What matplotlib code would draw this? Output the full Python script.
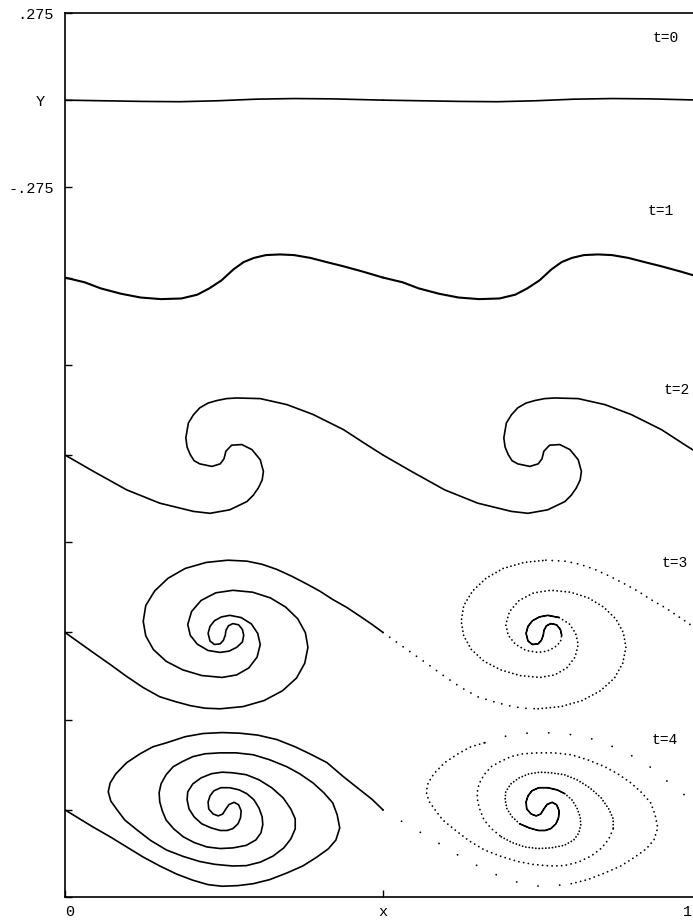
import numpy as np
import matplotlib
matplotlib.use("Agg")
import matplotlib.pyplot as plt

# one period of the sheet (x from 0 to 0.5), y is offset from the panel baseline
T0_X = [0, .06, .12, .18, .24, .30, .36, .42, .5]
T0_Y = [0, -.002, -.004, -.005, -.002, .003, .005, .004, 0]

T1_X = [0, .031, .056, .088, .119, .151, .183, .208, .227, .246, .265, .281, .297, .316, .338,
        .360, .386, .411, .437, .468, .5]
T1_Y = [0, -.015, -.034, -.051, -.063, -.068, -.066, -.054, -.034, -.009, .026, .049, .062, .071, .073,
        .071, .062, .049, .036, .019, 0]

T2_X = [0, .045, .097, .149, .202, .228, .259, .286, .296, .304, .310, .312, .307, .294, .278, .262,
        .253, .250, .244, .231, .212, .203, .197, .192, .190, .194, .202, .212, .225, .239, .254,
        .270, .307, .349, .390, .438, .474, .5]
T2_Y = [0, -.052, -.110, -.152, -.178, -.184, -.173, -.147, -.127, -.104, -.079, -.052, -.015, .017,
        .033, .031, .012, -.012, -.028, -.036, -.028, -.018, .001, .025, .054, .101, .127, .149, .164,
        .172, .178, .180, .178, .159, .128, .080, .033, 0]

T3_X = [0, .044, .071, .097, .123, .149, .173, .197, .220, .244,
        .280, .313, .342, .364, .377, .382,
        .378, .366, .347, .323, .295, .264,
        .237, .214, .199, .193,
        .197, .208, .225, .244,
        .258, .270, .279, .281,
        .279, .273, .264, .257, .253, .252, .249, .244, .235, .228, .225,
        .228, .235, .246, .259,
        .277, .293, .303, .307,
        .302, .289, .270, .247,
        .215, .185, .159, .139, .127, .123,
        .127, .141, .162, .189, .222, .256,
        .286, .310, .333, .357, .381, .401, .421, .443, .464, .483, .5]
T3_Y = [0, -.063, -.101, -.139, -.174, -.203, -.218, -.231, -.239, -.241,
        -.234, -.215, -.184, -.144, -.097, -.047,
        -.001, .043, .080, .109, .127, .133,
        .125, .101, .066, .025,
        -.009, -.037, -.057, -.063,
        -.059, -.047, -.030, -.009,
        .009, .024, .028, .021, .006, -.009, -.025, -.036, -.038, -.027, -.003,
        .019, .037, .049, .054,
        .047, .027, -.003, -.038,
        -.078, -.112, -.134, -.142,
        -.136, -.118, -.091, -.054, -.011, .035,
        .085, .131, .171, .202, .221, .228,
        .225, .215, .199, .177, .152, .130, .104, .079, .051, .025, 0]

T4_X = [0, .044, .071, .097, .123, .149, .176, .201, .225, .247,
        .272, .296, .322, .349, .374, .396, .414, .426, .432,
        .428, .421, .407, .390, .369, .349, .322, .296, .269, .244,
        .220, .201, .184, .170, .159, .151, .148,
        .149, .153, .159, .171, .186, .203, .223, .244, .264, .285, .300,
        .308, .311, .310,
        .305, .297, .286, .274, .259, .245, .234, .228, .225,
        .226, .233, .241, .248, .253, .258, .266, .273, .277,
        .276, .272, .264, .255, .244, .230, .215, .203, .195, .192, .193, .201, .214, .230, .247,
        .264, .285, .305, .325, .343, .355, .362, .362, .355, .344, .327, .307, .285, .263,
        .236, .212, .186, .160, .135, .113, .094, .082, .072, .068,
        .071, .080, .097, .118, .138, .160, .189, .217, .247,
        .275, .303, .333, .362, .388, .412, .437, .464, .483, .5]
T4_Y = [0, -.054, -.085, -.117, -.149, -.177, -.203, -.222, -.236, -.241,
        -.239, -.233, -.220, -.199, -.177, -.149, -.123, -.095, -.057,
        -.016, .022, .054, .085, .114, .136, .158, .174, .180, .180,
        .177, .168, .152, .136, .111, .082, .054,
        .025, -.003, -.032, -.060, -.085, -.103, -.117, -.122, -.120, -.112, -.095,
        -.073, -.047, -.022,
        .006, .032, .051, .063, .070, .070, .060, .044, .025,
        .003, -.013, -.019, -.013, .003, .017, .024, .016, -.003,
        -.025, -.044, -.059, -.065, -.065, -.057, -.044, -.022, .003, .032, .057, .082, .101, .114, .119,
        .117, .111, .095, .070, .038, .003, -.028, -.060, -.092, -.120, -.146, -.165, -.176, -.177,
        -.172, -.163, -.147, -.127, -.097, -.063, -.032, 0, .028, .057,
        .085, .114, .149, .177, .199, .212, .231, .241, .244,
        .242, .236, .222, .199, .174, .149, .106, .063, .033, 0]

CURVES = [(T0_X, T0_Y), (T1_X, T1_Y), (T2_X, T2_Y), (T3_X, T3_Y), (T4_X, T4_Y)]
TIME_LABELS = ["t=0", "t=1", "t=2", "t=3", "t=4"]
LABEL_POS = [(0.945, 0.195), (0.936, 0.21), (0.962, 0.205), (0.959, 0.22), (0.943, 0.22)]

STEP = 0.56      # vertical distance between the panels
HALF = 0.275

# the second period of t=3 and t=4 is drawn as points: (start, end, gap)
DOT_SEGMENTS = {
    3: [(0, 9, 4.5), (9, 33, 2.2), (33, 49, 0.5), (49, 68, 2.2), (68, 79, 3.5)],
    4: [(0, 11, 12.0), (11, 40, 2.6), (40, 52, 1.8), (52, 74, 0.5), (74, 90, 1.8),
        (90, 112, 2.6), (112, 125, 12.0)],
}

fig = plt.figure(figsize=(6.93, 9.22), dpi=100)
ax = fig.add_axes([0.0938, 0.0271, 0.9177, 0.9588])

for k, (xs, ys) in enumerate(CURVES):
    x = np.array(xs)
    y = np.array(ys) - k * STEP
    lw = 1.5 if k == 1 else 1.2
    ax.plot(x, y, color="black", lw=lw, solid_capstyle="round", solid_joinstyle="round")
    if k in DOT_SEGMENTS:
        for i0, i1, gap in DOT_SEGMENTS[k]:
            ax.plot(x[i0:i1 + 1] + 0.5, y[i0:i1 + 1], color="black", lw=1.3,
                    linestyle=(0, (0.05, gap)), dash_capstyle="round")
    else:
        ax.plot(x + 0.5, y, color="black", lw=lw, solid_capstyle="round", solid_joinstyle="round")
    lx, ly = LABEL_POS[k]
    ax.text(lx, ly - k * STEP, TIME_LABELS[k], ha="center", va="center",
            fontsize=10.5, family="Liberation Mono")

ax.set_xlim(0, 1)
ax.set_ylim(-HALF - 4 * STEP, HALF)

yticks = [HALF, 0, -HALF]
for k in range(1, 5):
    yticks += [-k * STEP, -k * STEP - HALF]
ylabels = [".275", "Y ", "-.275"] + [""] * (len(yticks) - 3)
ax.set_yticks(yticks)
ax.set_yticklabels(ylabels, family="Liberation Mono", fontsize=11)
ax.set_xticks([0, 0.5, 1])
ax.set_xticklabels(["0", "x", ""], family="Liberation Mono", fontsize=11)
ax.get_xticklabels()[0].set_horizontalalignment("left")
# the right end label sits on the figure edge
fig.text(0.999, 0.0105, "1", ha="right", va="center", family="Liberation Mono", fontsize=11)
ax.tick_params(direction="in", length=5, width=1, pad=8)
ax.tick_params(axis="x", pad=6)
for sp in ax.spines.values():
    sp.set_linewidth(1.2)

fig.savefig("out.png", dpi=100)
